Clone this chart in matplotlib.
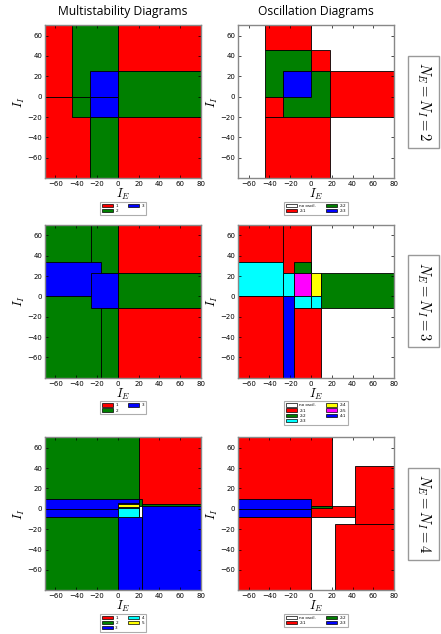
import matplotlib
matplotlib.use('Agg')
from matplotlib import pyplot as plt, patches

plt.rcParams['mathtext.fontset'] = 'cm'

# region category colours
ms_labels = ['1', '2', '3', '4', '5']
ms_colors = ['red', 'green', 'blue', 'cyan', 'yellow']
osc_colors = {'no oscil.': 'white', '2:1': 'red', '2:2': 'green', '2:3': 'blue',
              '2:4': 'yellow', '2:5': 'magenta', '4:1': 'blue'}
osc3_colors = dict(osc_colors, **{'2:3': 'cyan'})

# regions: (IE from, IE to, II from, II to, category), in drawing order
ms2_regions = [(-70, -44, 0, 70, '1'), (-70, -27, -80, 0, '1'),
               (-44, 0, 0, 70, '2'), (-44, 0, -20, 0, '2'), (-27, 0, -80, -20, '2'),
               (-27, 0, 0, 25, '3'), (-27, 0, -20, 0, '3'),
               (0, 80, 25, 70, '1'), (0, 80, -20, 25, '2'), (0, 80, -80, -20, '1')]
osc2_regions = [(-44, 0, 46, 70, '2:1'), (-44, 0, 0, 46, '2:2'), (0, 18, 25, 46, '2:1'),
                (-27, 18, -20, 25, '2:2'), (-27, 0, 0, 25, '2:3'),
                (-44, -27, -20, 0, '2:1'), (18, 80, -20, 25, '2:1'),
                (-44, 18, -80, -20, '2:1')]
ms3_regions = [(-70, -16, -80, 0, '2'), (-70, -26, 0, 70, '2'), (-26, 0, 23, 70, '2'),
               (-16, 0, -80, -11, '2'), (-70, -16, 0, 34, '3'), (-26, 0, -11, 23, '3'),
               (0, 80, 23, 70, '1'), (0, 80, -11, 23, '2'), (0, 80, -80, -11, '1')]
osc3_regions = [(-70, -27, 34, 70, '2:1'), (-27, 0, 23, 70, '2:1'), (-16, 0, 23, 34, '2:2'),
                (-70, -27, 0, 34, '2:3'), (-27, -16, 0, 23, '2:3'), (-16, 0, 0, 23, '2:5'),
                (0, 10, 0, 23, '2:4'), (10, 80, -11, 23, '2:2'), (-16, 0, -11, 0, '2:3'),
                (0, 10, -11, 0, '2:3'), (-27, -16, -80, 0, '4:1'),
                (-70, -27, -80, 0, '2:1'), (-16, 10, -80, -11, '2:1')]
ms4_regions = [(-70, 20, 10, 70, '2'), (20, 80, 4.5, 70, '1'), (20, 23.5, 3, 10, '2'),
               (23.5, 80, 2.5, 4.5, '2'), (-70, 20, 0, 10, '3'), (-70, 20, -8.5, 0, '3'),
               (-70, 0, -80, -8.5, '2'), (0, 23.5, -80, -8.5, '3'), (23.5, 80, -80, 2.5, '3'),
               (0, 20, -8.5, 6, '3'), (0, 20, 1.5, 4.5, '5'), (0, 20, -8.5, 1, '4')]
osc4_regions = [(-70, 20, 1, 70, '2:1'), (-70, 0, 0, 10, '2:3'), (-70, 0, -8.5, 0, '2:3'),
                (0, 42, -8.5, 2.5, '2:1'), (0, 20, 1, 3, '2:2'),
                (42, 80, -15, 42, '2:1'), (23, 80, -80, -15, '2:1'),
                (-70, 0, -80, -8.5, '2:1')]

ms_legends = [['1', '2', '3'], ['1', '2', '3'], ['1', '2', '3', '4', '5']]
osc_legends = [['no oscil.', '2:1', '2:2', '2:3'],
               ['no oscil.', '2:1', '2:2', '2:3', '2:4', '2:5', '4:1'],
               ['no oscil.', '2:1', '2:2', '2:3']]
n_values = [2, 3, 4]

ms_color_map = dict(zip(ms_labels, ms_colors))

fig = plt.figure(figsize=(4.41, 6.34), dpi=100)
bottoms = [0.719, 0.404, 0.069]
lefts = [0.102, 0.540]


def draw_panel(ax, regions, cmap, legend_labels):
    for x0, x1, y0, y1, cat in regions:
        ax.add_patch(patches.Rectangle((x0, y0), x1 - x0, y1 - y0, facecolor=cmap[cat],
                                       edgecolor='black', linewidth=0.6))
    ax.set_xlim(-70, 80)
    ax.set_ylim(-80, 70)
    ax.set_xticks([-60, -40, -20, 0, 20, 40, 60, 80])
    ax.set_yticks([-60, -40, -20, 0, 20, 40, 60])
    ax.tick_params(direction='in', top=True, right=True, length=2.5, width=0.5,
                   labelsize=5, pad=2)
    for s in ax.spines.values():
        s.set_color('#888888')
        s.set_linewidth(1.0)
    ax.set_xlabel('$I_E$', fontsize=9, labelpad=0)
    ax.set_ylabel('$I_I$', fontsize=9, labelpad=0)
    handles = [patches.Patch(facecolor=cmap[l], edgecolor='black', linewidth=0.5, label=l)
               for l in legend_labels]
    leg = ax.legend(handles=handles, loc='upper center', bbox_to_anchor=(0.5, -0.14),
                    ncol=2, fontsize=3, fancybox=False, handlelength=2.6,
                    handleheight=0.9, columnspacing=2.5, labelspacing=0.25,
                    borderpad=0.45, handletextpad=0.6)
    leg.get_frame().set_edgecolor('#999999')
    leg.get_frame().set_linewidth(0.8)


ms_all = [ms2_regions, ms3_regions, ms4_regions]
osc_all = [osc2_regions, osc3_regions, osc4_regions]
osc_cmaps = [osc_colors, osc3_colors, osc_colors]

for i in range(3):
    ax1 = fig.add_axes([lefts[0], bottoms[i], 0.354, 0.241])
    draw_panel(ax1, ms_all[i], ms_color_map, ms_legends[i])
    ax2 = fig.add_axes([lefts[1], bottoms[i], 0.354, 0.241])
    draw_panel(ax2, osc_all[i], osc_cmaps[i], osc_legends[i])
    fig.text(0.960, bottoms[i] + 0.1205, r'$N_E = N_I = %d$' % n_values[i],
             rotation=270, ha='center', va='center', fontsize=10.5,
             bbox=dict(boxstyle='square,pad=0.45', facecolor='white', edgecolor='#999999'))

fig.text(0.279, 0.982, 'Multistability Diagrams', ha='center', va='center',
         fontsize=8.7, family='Open Sans')
fig.text(0.717, 0.982, 'Oscillation Diagrams', ha='center', va='center',
         fontsize=8.7, family='Open Sans')

fig.savefig('out.png', dpi=100)
